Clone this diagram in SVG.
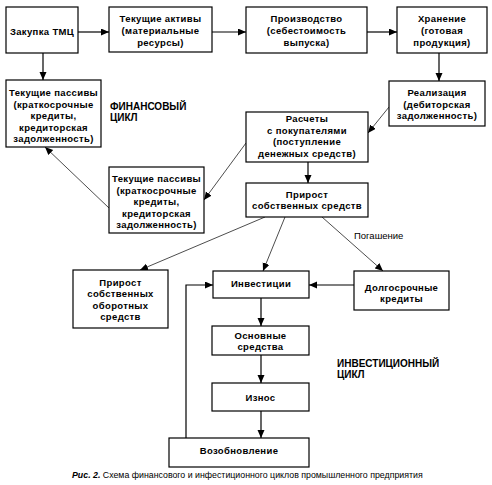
<svg xmlns="http://www.w3.org/2000/svg" width="492" height="485" viewBox="0 0 492 485">
<style>
.box{fill:#fff;stroke:#000;stroke-width:1.2}
.t{font-family:"Liberation Sans",Arial,sans-serif;font-size:9.5px;font-weight:bold;text-anchor:middle;fill:#000;letter-spacing:0.35px}
.lbl{font-family:"Liberation Sans",Arial,sans-serif;font-size:10px;font-weight:bold;fill:#000}
.n{font-family:"Liberation Sans",Arial,sans-serif;font-size:9.5px;fill:#000}
.c{font-family:"Liberation Sans",Arial,sans-serif;font-size:8.8px;fill:#000}
.k{fill:none;stroke:#000;stroke-width:1.2}
.d{fill:none;stroke:#000;stroke-width:0.7}
</style>
<defs>
<marker id="ah" markerUnits="userSpaceOnUse" markerWidth="9" markerHeight="8" refX="8" refY="3.5" orient="auto">
<path d="M0,0 L8,3.5 L0,7 z" fill="#000"/>
</marker>
</defs>
<rect width="492" height="485" fill="#fff"/>
<g id="connectors">
<line class="k" x1="78" y1="32" x2="109" y2="32" marker-end="url(#ah)"/>
<line class="k" x1="212" y1="32" x2="246" y2="32" marker-end="url(#ah)"/>
<line class="k" x1="367" y1="32" x2="397" y2="32" marker-end="url(#ah)"/>
<line class="k" x1="439" y1="53" x2="439" y2="81" marker-end="url(#ah)"/>
<line class="k" x1="43" y1="53" x2="43" y2="80" marker-end="url(#ah)"/>
<line class="d" x1="389" y1="107" x2="368" y2="133" marker-end="url(#ah)"/>
<line class="d" x1="246" y1="143" x2="204" y2="200" marker-end="url(#ah)"/>
<line class="d" x1="109" y1="208" x2="45" y2="147" marker-end="url(#ah)"/>
<line class="k" x1="308" y1="162" x2="308" y2="183" marker-end="url(#ah)"/>
<line class="d" x1="265" y1="217" x2="140" y2="270" marker-end="url(#ah)"/>
<line class="d" x1="285" y1="217" x2="263" y2="271" marker-end="url(#ah)"/>
<line class="d" x1="322" y1="217" x2="383" y2="271" marker-end="url(#ah)"/>
<line class="k" x1="354" y1="285" x2="309" y2="285" marker-end="url(#ah)"/>
<line class="k" x1="261" y1="298" x2="261" y2="326" marker-end="url(#ah)"/>
<line class="k" x1="261" y1="355" x2="261" y2="383" marker-end="url(#ah)"/>
<line class="k" x1="261" y1="411" x2="261" y2="438" marker-end="url(#ah)"/>
<polyline class="k" points="186,438 186,285 213,285" marker-end="url(#ah)"/>
<text class="n" x="354" y="239">Погашение</text>
</g>
<g id="zakupka"><rect class="box" x="6" y="7" width="72" height="46"/><text class="t" x="42" y="34.5">Закупка ТМЦ</text></g>
<g id="aktivy"><rect class="box" x="109" y="7" width="103" height="45"/><text class="t" x="160.5" y="22">Текущие активы</text><text class="t" x="160.5" y="34">(материальные</text><text class="t" x="160.5" y="45.5">ресурсы)</text></g>
<g id="proizvodstvo"><rect class="box" x="246" y="7" width="121" height="46"/><text class="t" x="306.5" y="22">Производство</text><text class="t" x="306.5" y="34">(себестоимость</text><text class="t" x="306.5" y="45.5">выпуска)</text></g>
<g id="hranenie"><rect class="box" x="397" y="7" width="90" height="46"/><text class="t" x="442" y="22">Хранение</text><text class="t" x="442" y="34">(готовая</text><text class="t" x="442" y="45.5">продукция)</text></g>
<g id="realizacia"><rect class="box" x="389" y="81" width="96" height="45"/><text class="t" x="437" y="95.5">Реализация</text><text class="t" x="437" y="107.5">(дебиторская</text><text class="t" x="437" y="119">задолженность)</text></g>
<g id="raschety"><rect class="box" x="246" y="112" width="122" height="50"/><text class="t" x="307" y="121.5">Расчеты</text><text class="t" x="307" y="133.5">с покупателями</text><text class="t" x="307" y="145">(поступление</text><text class="t" x="307" y="156.5">денежных средств)</text></g>
<g id="passivy1"><rect class="box" x="6" y="80" width="95" height="67"/><text class="t" x="53.5" y="95.5">Текущие пассивы</text><text class="t" x="53.5" y="107.5">(краткосрочные</text><text class="t" x="53.5" y="119">кредиты,</text><text class="t" x="53.5" y="130.5">кредиторская</text><text class="t" x="53.5" y="142">задолженность)</text></g>
<g id="passivy2"><rect class="box" x="109" y="167" width="95" height="66"/><text class="t" x="156.5" y="181.5">Текущие пассивы</text><text class="t" x="156.5" y="193.5">(краткосрочные</text><text class="t" x="156.5" y="205">кредиты,</text><text class="t" x="156.5" y="216.5">кредиторская</text><text class="t" x="156.5" y="228">задолженность)</text></g>
<g id="prirost"><rect class="box" x="246" y="183" width="122" height="34"/><text class="t" x="307" y="197.5">Прирост</text><text class="t" x="307" y="209">собственных средств</text></g>
<g id="prirost-oborot"><rect class="box" x="73" y="270" width="95" height="58"/><text class="t" x="120.5" y="285.5">Прирост</text><text class="t" x="120.5" y="297">собственных</text><text class="t" x="120.5" y="308.5">оборотных</text><text class="t" x="120.5" y="320">средств</text></g>
<g id="investicii"><rect class="box" x="213" y="271" width="96" height="27"/><text class="t" x="261" y="287">Инвестиции</text></g>
<g id="dolgosrochnye"><rect class="box" x="354" y="271" width="95" height="39"/><text class="t" x="401.5" y="290.5">Долгосрочные</text><text class="t" x="401.5" y="301.5">кредиты</text></g>
<g id="osnovnye"><rect class="box" x="212" y="326" width="97" height="29"/><text class="t" x="260.5" y="338.5">Основные</text><text class="t" x="260.5" y="350">средства</text></g>
<g id="iznos"><rect class="box" x="212" y="383" width="97" height="28"/><text class="t" x="260.5" y="400.5">Износ</text></g>
<g id="vozobnovlenie"><rect class="box" x="169" y="438" width="140" height="29"/><text class="t" x="239" y="453.5">Возобновление</text></g>
<text class="lbl" x="110" y="110">ФИНАНСОВЫЙ</text>
<text class="lbl" x="110" y="121">ЦИКЛ</text>
<text class="lbl" x="337" y="367">ИНВЕСТИЦИОННЫЙ</text>
<text class="lbl" x="337" y="378">ЦИКЛ</text>
<text class="c" x="72" y="478"><tspan font-weight="bold" font-style="italic">Рис. 2.</tspan> Схема финансового и инфестиционного циклов промышленного предприятия</text>
</svg>
